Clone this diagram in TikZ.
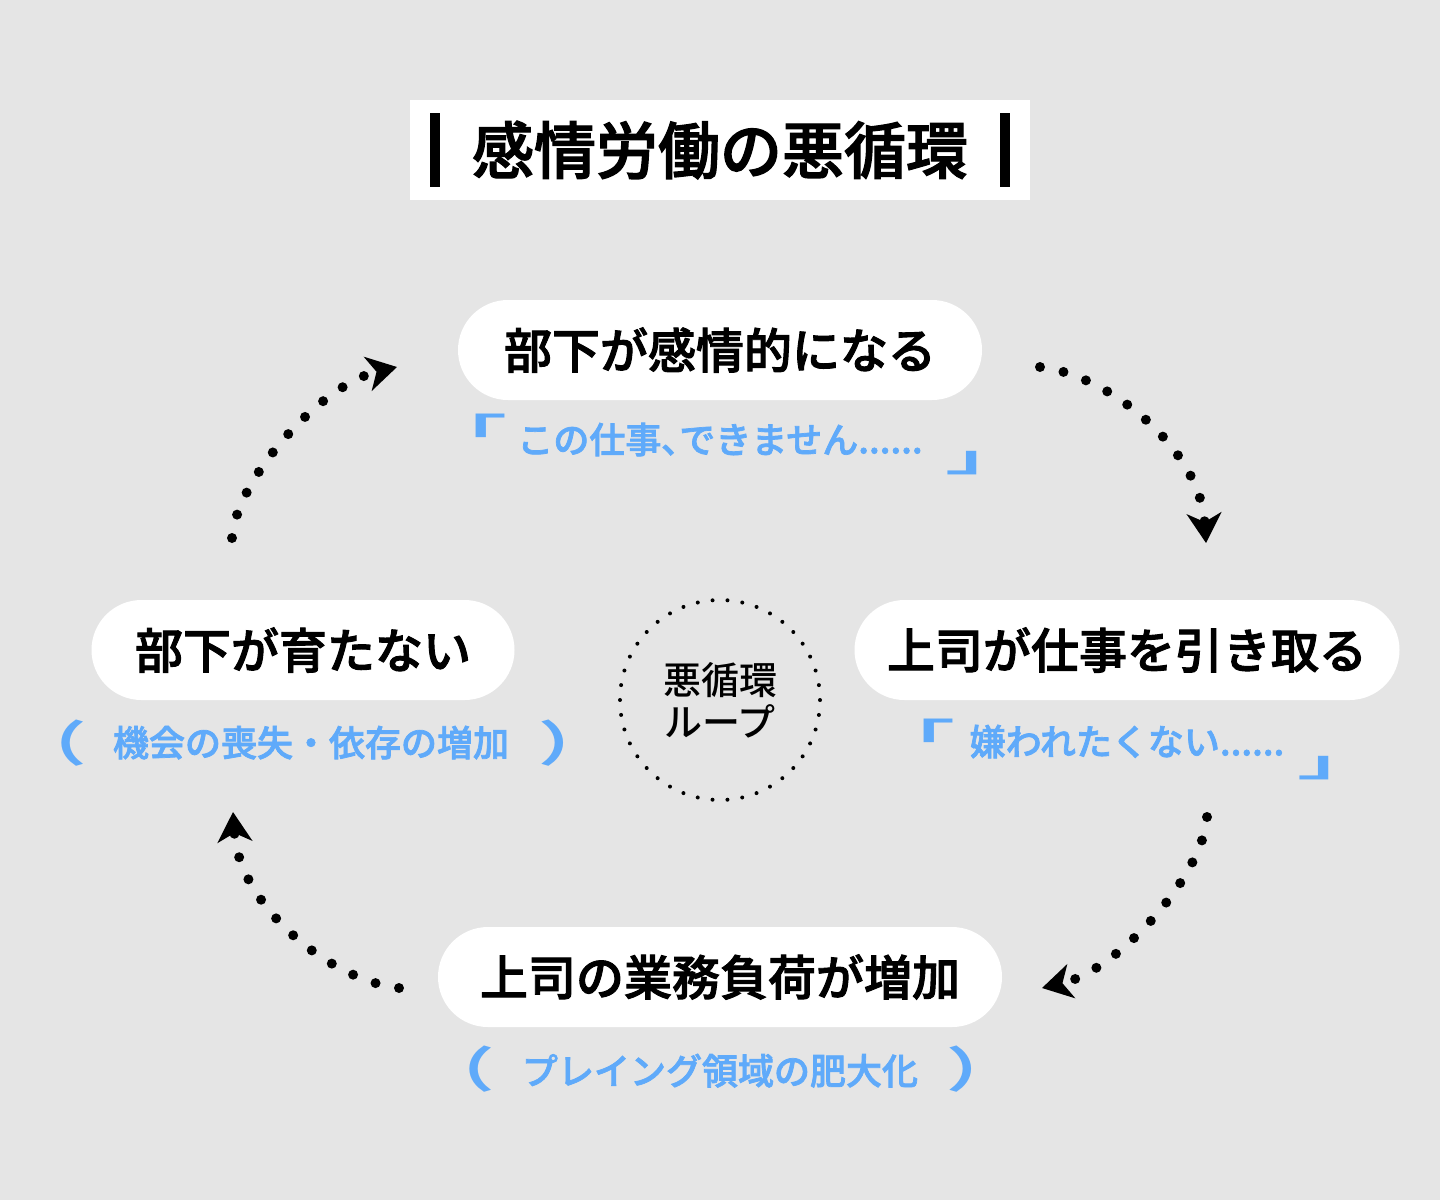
\documentclass[tikz,border=0pt]{standalone}
\usepackage{fontspec}
\newfontfamily\jp{Noto Sans CJK JP}[BoldFont={Noto Sans CJK JP Bold}]
\newfontfamily\jpmid{Noto Sans CJK JP Medium}
\newfontfamily\jpsemi{Noto Sans CJK JP Medium}[FakeBold=2]
\usepackage{tikz}
\usetikzlibrary{positioning,arrows.meta}
\definecolor{paper}{RGB}{229,229,229}
\definecolor{skyblue}{RGB}{95,170,250}
\newcommand\tight[1]{{\addfontfeatures{RawFeature=+palt}#1}}

\begin{document}
\begin{tikzpicture}[
  x=0.5pt, y=-0.5pt,
  stage/.style={fill=white, rounded corners=25pt, minimum height=50pt, inner sep=0pt, font=\jpsemi\fontsize{24}{28}\selectfont},
  voice/.style={text=skyblue, inner sep=0pt, font=\jpsemi\fontsize{18}{20}\selectfont},
  brk/.style={text=skyblue, inner sep=0pt, transform shape, font=\jp\bfseries\fontsize{26}{28}\selectfont},
  corner/.style={brk, xscale=1.67, yscale=0.71},
  paren/.style={brk, xscale=1.43, yscale=0.93},
  flow/.style={line width=5pt, line cap=round, dash pattern=on 0pt off 12pt, -{Stealth[length=15pt, width=17.5pt, inset=4.5pt, line width=1.5pt, line join=miter]}},
  ring/.style={circle, draw, line width=2pt, line cap=round, dash pattern=on 0pt off 7.48pt, minimum size=100pt, inner sep=0pt, align=center, font=\jpmid\fontsize{19}{21}\selectfont}
]
\fill[paper] (0,0) rectangle (1440,1200);
\useasboundingbox (0,0) rectangle (1440,1200);

% title
\node[fill=white, minimum width=310pt, minimum height=50pt, font=\jpsemi\fontsize{31}{36}\selectfont] (head) at (720,150) {感情労働の悪循環};
\fill (430,113) rectangle (440,187);
\fill (1000,113) rectangle (1010,187);

% stages
\node[stage, minimum width=262pt] (feel) at (720,350) {部下が感情的になる};
\node[stage, minimum width=272.5pt] (take) at (1127,650) {上司が仕事を引き取る};
\node[stage, minimum width=282pt] (load) at (720,977) {上司の業務負荷が増加};
\node[stage, minimum width=211.5pt] (grow) at (303,650) {部下が育たない};

% voices
\node[voice, below=11pt of feel] (feelq) {この仕事\tight{、}できません......};
\node[voice, below=12pt of take] (takeq) {嫌われたくない......};
\node[voice, below=13pt of load] (loadq) {プレイング領域の肥大化};
\node[voice, below=12.5pt of grow, xshift=4pt] (growq) {機会の喪失・依存の増加};

\node[corner] (feelo) at (464,430) {「};
\node[corner] (feelc) at (989,463) {」};
\node[corner] (takeo) at (912,735) {「};
\node[corner] (takec) at (1341,768) {」};
\node[paren] (loado) at (458,1069) {（};
\node[paren] (loadc) at (984,1069) {）};
\node[paren] (growo) at (50,743) {（};
\node[paren] (growc) at (576,743) {）};

% loop
\node[ring] (loop) at (720,700) {悪循環\\ループ};

% arrows
\coordinate (fr1) at (1040,367);
\coordinate (to1) at (1206,543);
\coordinate (fr2) at (1207,817);
\coordinate (to2) at (1042,988);
\coordinate (fr3) at (399,988);
\coordinate (to3) at (233,812);
\coordinate (fr4) at (232,538);
\coordinate (to4) at (397,367);
\draw[flow] (fr1) .. controls (1110,375) and (1200,450) .. (to1);
\draw[flow] (fr2) .. controls (1203,875) and (1119,970) .. (to2);
\draw[flow] (fr3) .. controls (329,980) and (239,905) .. (to3);
\draw[flow] (fr4) .. controls (236,480) and (320,385) .. (to4);
\end{tikzpicture}
\end{document}
